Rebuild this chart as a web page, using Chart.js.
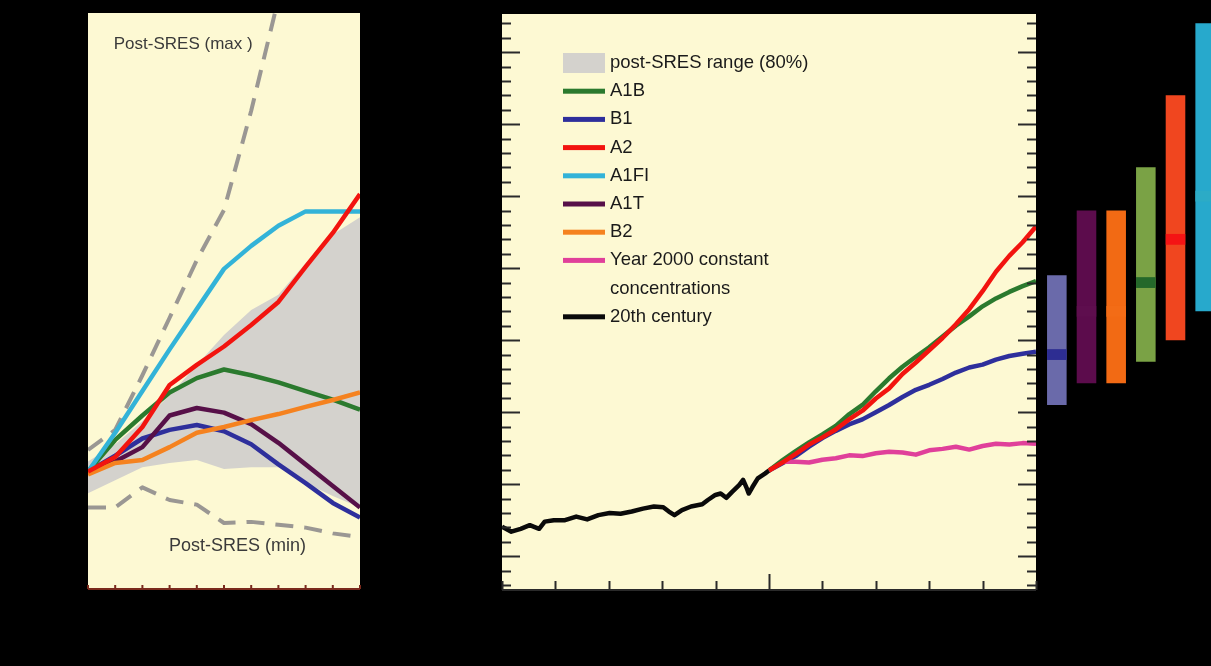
<!DOCTYPE html>
<html><head><meta charset="utf-8">
<script src="https://cdn.jsdelivr.net/npm/chart.js@4.4.1/dist/chart.umd.min.js"></script>
<style>
html,body{margin:0;padding:0;background:#000;width:1211px;height:666px;overflow:hidden;}
.box{position:absolute;top:0;height:666px;}
#b1{left:0;width:380px;} #b2{left:420px;width:640px;} #b3{left:1042px;width:178px;}
</style></head><body>
<div class="box" id="b1"><canvas id="emis"></canvas></div>
<div class="box" id="b2"><canvas id="temp"></canvas></div>
<div class="box" id="b3"><canvas id="bars"></canvas></div>
<script>
// ---------- Left panel: emissions (Gt CO2-eq/yr) ----------
const emisYears = [2000,2010,2020,2030,2040,2050,2060,2070,2080,2090,2100];
const emisA1FI = [40.5,54,68.5,83,97,111,119,126,131,131,131];
const emisA2   = [40.5,45.6,56,70.6,77.6,84,91.5,99.5,111.7,123.5,137];
const emisA1B  = [40.5,51.5,60,68,73,76,74,71.5,68.5,65.5,62];
const emisB1   = [40.5,46,52,55,56.7,54.5,50,43,36.5,29.6,24.5];
const emisA1T  = [40.5,44,49,60,62.6,61,57,50.5,43,35.5,28];
const emisB2   = [39.5,43.5,44.5,49,54,56,58.4,60.5,63,65.4,68];
const emisRangeHigh = [44,50,58,67,77.6,88,96.7,102,113,123,129];
const emisRangeLow  = [33,37.5,42,43.5,44.5,41.4,42,42,36.5,32,28];
const emisMaxYears = [2000,2010,2020,2030,2040,2050,2060,2070,2080];
const emisMax = [48,55,74,94,114,131.5,166,205,260];
const emisMin = [28,28,35,30.6,29,22.6,23,22,21,19,17.7];
const emisYTicks = [0,20,40,60,80,100,120,140,160,180,200];
const emisXTicks = [2000,2010,2020,2030,2040,2050,2060,2070,2080,2090,2100];
const labelMax = "Post-SRES (max )";
const labelMin = "Post-SRES (min)";

// ---------- Main panel: surface warming (°C) ----------
const histYears = [1900,1903.5,1907,1910.4,1913.9,1916,1919.4,1923.6,1927.8,1931.9,1936.1,1940.3,1944.4,1948.6,1952.8,1956.9,1960.4,1962.5,1964.6,1967.4,1970.8,1975,1977.1,1979.9,1981.9,1984,1986.1,1988.9,1990.3,1991.7,1992.4,1993.8,1995.8,1998.6,2000];
const histTemp  = [-0.59,-0.66,-0.62,-0.57,-0.62,-0.52,-0.50,-0.50,-0.45,-0.49,-0.43,-0.40,-0.41,-0.38,-0.34,-0.31,-0.32,-0.38,-0.43,-0.36,-0.31,-0.28,-0.22,-0.15,-0.13,-0.19,-0.11,-0.01,0.06,-0.06,-0.13,-0.04,0.08,0.15,0.19];
const projYears = [2000,2005,2010,2015,2020,2025,2030,2035,2040,2045,2050,2055,2060,2065,2070,2075,2080,2085,2090,2095,2100];
const tempA2  = [0.19,0.30,0.42,0.55,0.65,0.76,0.90,1.02,1.19,1.33,1.53,1.69,1.86,2.03,2.22,2.43,2.68,2.95,3.17,3.36,3.58];
const tempA1B = [0.19,0.33,0.46,0.58,0.69,0.81,0.97,1.10,1.29,1.47,1.63,1.77,1.90,2.05,2.20,2.33,2.47,2.58,2.67,2.75,2.82];
const tempB1  = [0.19,0.29,0.39,0.52,0.64,0.74,0.83,0.90,1.00,1.10,1.21,1.31,1.38,1.46,1.55,1.62,1.66,1.73,1.78,1.81,1.84];
const tempConst = [0.19,0.31,0.31,0.30,0.34,0.36,0.40,0.39,0.43,0.45,0.44,0.41,0.47,0.49,0.52,0.48,0.53,0.56,0.55,0.57,0.56];
const tempYTicks = [-1.4,-1.2,-1.0,-0.8,-0.6,-0.4,-0.2,0,0.2,0.4,0.6,0.8,1.0,1.2,1.4,1.6,1.8,2.0,2.2,2.4,2.6,2.8,3.0,3.2,3.4,3.6,3.8,4.0,4.2,4.4,4.6,4.8,5.0,5.2,5.4,5.6,5.8,6.0,6.2,6.4];
const tempXTicks = [1900,1920,1940,1960,1980,2000,2020,2040,2060,2080,2100];
const legendLabels = ["post-SRES range (80%)","A1B","B1","A2","A1FI","A1T","B2","Year 2000 constant","20th century"];
const legendLabel2 = "concentrations";

// ---------- Right bars: likely ranges at 2090-2099 ----------
const barCats = ["B1","A1T","B2","A1B","A2","A1FI"];
const barLow  = [1.1,1.4,1.4,1.7,2.0,2.4];
const barHigh = [2.9,3.8,3.8,4.4,5.4,6.4];
const barBest = [1.8,2.4,2.4,2.8,3.4,4.0];

// ---------- styles ----------
const C = {A1FI:'#33b3d8',A2:'#f2140f',A1B:'#2b7a2e',B1:'#2e2f9c',A1T:'#571048',B2:'#f5821f',
           pink:'#e0409a',hist:'#0a0a0a',range:'#d4d2cd',dash:'#9a9793',bg:'#fdf9d3'};
const FONT = '"Liberation Sans", Arial, sans-serif';
const pts = (xs, ys) => ys.map((v,i)=>({x:xs[i], y:v}));

const panelBg = {id:'panelBg', beforeDraw(ch){const a=ch.chartArea,c=ch.ctx;c.save();c.fillStyle=C.bg;c.fillRect(a.left,a.top,a.right-a.left,a.bottom-a.top);c.restore();}};

function lineDs(label, xs, ys, color, w, extra){
  return Object.assign({label, data:pts(xs,ys), borderColor:color, backgroundColor:color, borderWidth:w,
    pointRadius:0, tension:0, fill:false, borderCapStyle:'butt', borderJoinStyle:'round'}, extra||{});
}

// ===== Left chart =====
const emisDecor = {id:'emisDecor', afterDraw(ch){
  const c=ch.ctx,a=ch.chartArea,x=ch.scales.x,y=ch.scales.y;
  c.save();
  c.strokeStyle='#7a2a1c'; c.lineWidth=2;
  c.beginPath(); c.moveTo(a.left,a.bottom+1); c.lineTo(a.right,a.bottom+1); c.stroke();
  emisXTicks.forEach(t=>{const px=x.getPixelForValue(t); c.beginPath(); c.moveTo(px,a.bottom+1); c.lineTo(px,a.bottom-3); c.stroke();});
  c.fillStyle='#3a3a3a'; c.font='17px '+FONT; c.textAlign='center'; c.textBaseline='middle';
  c.fillText(labelMax, x.getPixelForValue(2035), y.getPixelForValue(189));
  c.font='18px '+FONT;
  c.fillText(labelMin, x.getPixelForValue(2055), y.getPixelForValue(14.6));
  c.restore();
}};
new Chart(document.getElementById('emis'), {
  type:'line',
  data:{datasets:[
    lineDs('A2', emisYears, emisA2, C.A2, 4.5),
    lineDs('A1FI', emisYears, emisA1FI, C.A1FI, 4.5),
    lineDs('B2', emisYears, emisB2, C.B2, 4.5),
    lineDs('A1B', emisYears, emisA1B, C.A1B, 4.5),
    lineDs('A1T', emisYears, emisA1T, C.A1T, 4.5),
    lineDs('B1', emisYears, emisB1, C.B1, 4.5),
    lineDs('Post-SRES max', emisMaxYears, emisMax, C.dash, 4, {borderDash:[18,11]}),
    lineDs('Post-SRES min', emisYears, emisMin, C.dash, 4, {borderDash:[18,11]}),
    lineDs('range high', emisYears, emisRangeHigh, 'rgba(0,0,0,0)', 0, {fill:'+1', backgroundColor:C.range}),
    lineDs('range low', emisYears, emisRangeLow, 'rgba(0,0,0,0)', 0)
  ]},
  options:{responsive:true, maintainAspectRatio:false, animation:false,
    layout:{padding:{left:88,right:20,top:13,bottom:78}},
    plugins:{legend:{display:false}, tooltip:{enabled:false}},
    scales:{x:{type:'linear',min:2000,max:2100,display:false},
            y:{type:'linear',min:0,max:200,display:false}}},
  plugins:[panelBg, emisDecor]
});

// ===== Main chart =====
const tempDecor = {id:'tempDecor', afterDraw(ch){
  const c=ch.ctx,a=ch.chartArea,x=ch.scales.x,y=ch.scales.y;
  c.save();
  c.strokeStyle='#2a2a2a'; c.lineWidth=2;
  tempYTicks.forEach(t=>{
    const py=Math.round(y.getPixelForValue(t))+0.5;
    const major=Math.abs(t-Math.round(t))<1e-6; const len=major?18:9;
    c.beginPath(); c.moveTo(a.left,py); c.lineTo(a.left+len,py); c.stroke();
    c.beginPath(); c.moveTo(a.right,py); c.lineTo(a.right-len,py); c.stroke();
  });
  tempXTicks.forEach(t=>{
    const px=Math.round(x.getPixelForValue(t))+0.5; const len=(t===2000)?16:9;
    c.beginPath(); c.moveTo(px,a.bottom); c.lineTo(px,a.bottom-len); c.stroke();
  });
  c.beginPath(); c.moveTo(a.left,a.bottom); c.lineTo(a.right,a.bottom); c.stroke();
  // legend
  const sw = [C.range,C.A1B,C.B1,C.A2,C.A1FI,C.A1T,C.B2,C.pink,C.hist];
  const rowOf = [0,1,2,3,4,5,6,7,9];
  const x0=a.left+61, tx=a.left+108, top=a.top+49, step=28.2;
  c.font='18.5px '+FONT; c.textBaseline='middle'; c.textAlign='left'; c.fillStyle='#1a1a1a';
  legendLabels.forEach((lab,i)=>{
    const yy=top+rowOf[i]*step;
    if(i===0){ c.fillStyle=sw[0]; c.fillRect(x0,yy-10,42,20); }
    else { c.fillStyle=sw[i]; c.fillRect(x0,yy-2.5,42,5); }
    c.fillStyle='#1a1a1a'; c.fillText(lab,tx,yy);
  });
  c.fillText(legendLabel2, tx, top+8*step);
  c.restore();
}};
new Chart(document.getElementById('temp'), {
  type:'line',
  data:{datasets:[
    lineDs('A2', projYears, tempA2, C.A2, 4.5),
    lineDs('A1B', projYears, tempA1B, C.A1B, 4.5),
    lineDs('Year 2000 constant concentrations', projYears, tempConst, C.pink, 4.5),
    lineDs('B1', projYears, tempB1, C.B1, 4.5),
    lineDs('20th century', histYears, histTemp, C.hist, 4.5)
  ]},
  options:{responsive:true, maintainAspectRatio:false, animation:false,
    layout:{padding:{left:82,right:24,top:14,bottom:76}},
    plugins:{legend:{display:false}, tooltip:{enabled:false}},
    scales:{x:{type:'linear',min:1900,max:2100,display:false},
            y:{type:'linear',min:-1.47,max:6.53,display:false}}},
  plugins:[panelBg, tempDecor]
});

// ===== Bars =====
const barColors  = ['#6a6aaa','#5c0c4c','#f26a14','#7aa245','#f0461f','#27a9cc'];
const bandColors = ['#2d2d92','#5e0e4e','#f36c16','#24682a','#f41414','#2cabc6'];
new Chart(document.getElementById('bars'), {
  type:'bar',
  data:{labels:barCats, datasets:[
    {label:'best estimate', data:barBest.map(b=>[b-0.075,b+0.075]), backgroundColor:bandColors, grouped:false, order:0, barPercentage:0.66, categoryPercentage:1},
    {label:'likely range', data:barLow.map((l,i)=>[l,barHigh[i]]), backgroundColor:barColors, grouped:false, order:1, barPercentage:0.66, categoryPercentage:1}
  ]},
  options:{responsive:true, maintainAspectRatio:false, animation:false,
    layout:{padding:{left:0,right:0,top:14,bottom:76}},
    plugins:{legend:{display:false}, tooltip:{enabled:false}},
    scales:{x:{display:false}, y:{type:'linear',min:-1.47,max:6.53,display:false}}}
});
</script>
</body></html>
